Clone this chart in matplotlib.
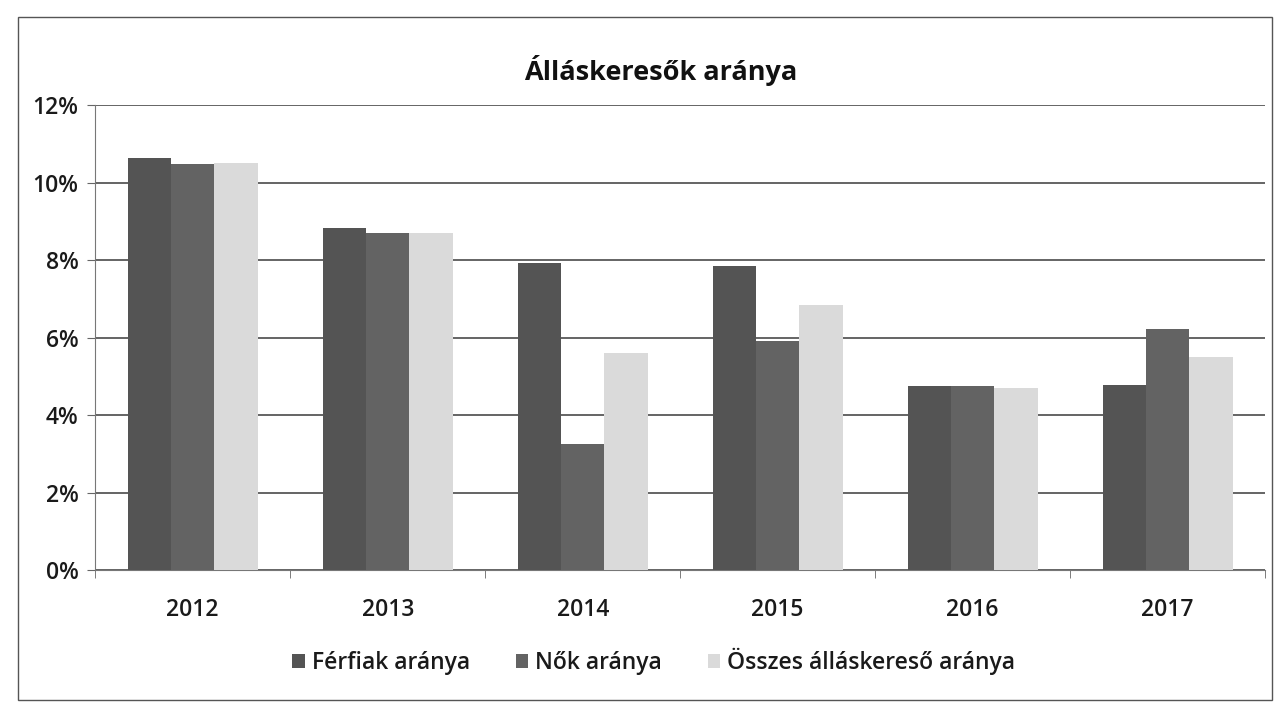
import numpy as np
import matplotlib
matplotlib.use("Agg")
import matplotlib.pyplot as plt
from matplotlib.patches import Rectangle

plt.rcParams["font.family"] = ["Open Sans", "DejaVu Sans"]

years = ["2012", "2013", "2014", "2015", "2016", "2017"]
ferfiak = [10.63, 8.84, 7.93, 7.85, 4.75, 4.78]
nok = [10.47, 8.70, 3.25, 5.92, 4.75, 6.22]
osszes = [10.50, 8.70, 5.60, 6.85, 4.70, 5.49]
series_names = ["Férfiak aránya", "Nők aránya", "Összes álláskereső aránya"]
colors = ["#545454", "#636363", "#dadada"]
yticks = [0, 2, 4, 6, 8, 10, 12]

fig = plt.figure(figsize=(12.87, 7.10), dpi=100)
ax = fig.add_axes([0.074, 0.197, 0.909, 0.655])

x = np.arange(len(years))
w = 1 / 4.5
for i, (vals, name, col) in enumerate(zip([ferfiak, nok, osszes], series_names, colors)):
    ax.bar(x + (i - 1) * w, vals, width=w, color=col, label=name, zorder=3)

ax.set_xlim(-0.5, len(years) - 0.5)
ax.set_ylim(0, 12)
ax.set_yticks(yticks)
ax.set_yticklabels([f"{t}%" for t in yticks], fontsize=16.5, color="#1a1a1a",
                   fontweight="semibold")
ax.set_xticks(x)
ax.set_xticklabels(years, fontsize=16.5, color="#1a1a1a", fontweight="semibold")
ax.set_xticks(np.arange(len(years) + 1) - 0.5, minor=True)
ax.tick_params(axis="x", which="major", length=0, pad=20)
ax.tick_params(axis="x", which="minor", length=6, color="#666666", direction="out")
ax.tick_params(axis="y", length=6, color="#666666", pad=6)

ax.grid(True, axis="y", color="#3a3a3a", linewidth=1.1, zorder=0)
for s in ["top", "right"]:
    ax.spines[s].set_visible(False)
ax.spines["left"].set_color("#777777")
ax.spines["bottom"].set_color("#777777")

fig.text(0.513, 0.90, "Álláskeresők aránya", fontsize=19.5, fontweight="bold",
         color="#111111", ha="center", va="center")

leg = fig.legend(loc="center", bbox_to_anchor=(0.508, 0.068), ncol=3, frameon=False,
                 fontsize=16.5, handlelength=0.55, handleheight=0.55, handletextpad=0.3,
                 columnspacing=2.0, prop={"weight": "semibold", "size": 16.5})
for t in leg.get_texts():
    t.set_color("#1a1a1a")

fig.patches.append(Rectangle((0.014, 0.014), 0.974, 0.962, transform=fig.transFigure,
                             fill=False, edgecolor="#555555", linewidth=1.0))

fig.savefig("out.png", dpi=100)
